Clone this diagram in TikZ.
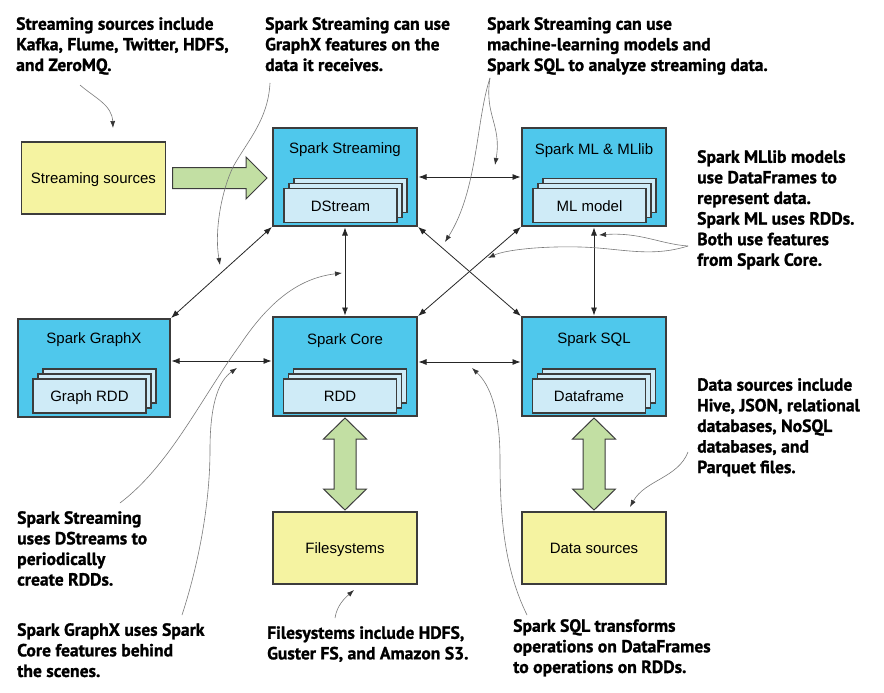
\documentclass[tikz,border=0pt]{standalone}
\usepackage{fontspec}
\setmainfont{Liberation Sans}
\newfontfamily\notefont[BoldFeatures={FakeBold=1.2}]{PT Sans}
\usetikzlibrary{arrows.meta,calc}
\definecolor{boxblue}{HTML}{4FC8EC}
\definecolor{cardblue}{HTML}{CFEBF7}
\definecolor{srcyellow}{HTML}{F5F3A1}
\definecolor{arrowgreen}{HTML}{C2DFA3}
\definecolor{edgec}{HTML}{3C3C3C}
\definecolor{callgray}{HTML}{7A7A7A}
\tikzset{
  comp/.style={draw=edgec, line width=1.1pt, fill=boxblue, minimum width=144pt, minimum height=98pt, inner sep=0pt, outer sep=0pt},
  srcbox/.style={draw=edgec, line width=1.1pt, fill=srcyellow, minimum width=144pt, minimum height=72pt, inner sep=0pt, outer sep=0pt, font=\fontsize{15}{18}\selectfont, text height=10.5pt, text depth=0pt},
  card/.style={draw=edgec, line width=1.1pt, fill=cardblue, minimum width=113pt, minimum height=34pt, inner sep=0pt, font=\fontsize{15}{18}\selectfont, text height=11pt, text depth=0pt},
  ttl/.style={font=\fontsize{15}{18}\selectfont, inner sep=0pt, anchor=base},
  note/.style={font=\notefont\bfseries\fontsize{17.6}{20.6}\selectfont, align=left, anchor=north west, inner sep=0pt},
  link/.style={draw=black!85, line width=0.8pt, {Latex[length=8pt,width=6pt]}-{Latex[length=8pt,width=6pt]}, shorten <=1.5pt, shorten >=1.5pt},
  call/.style={draw=callgray, line width=0.6pt, -{Latex[length=7pt,width=5pt,color=black!80]}},
  block/.style={draw=edgec, line width=1pt, fill=arrowgreen, line join=miter}
}
\begin{document}
\begin{tikzpicture}[x=1pt,y=-1pt]
\fill[white] (0,0) rectangle (884,693);
\useasboundingbox (0,0) rectangle (884,693);

% main boxes
\node[srcbox] (ss) at (93.5,178) {Streaming sources};
\node[comp] (sst) at (345,177) {};
\node[comp] (ml) at (594,177) {};
\node[comp, minimum width=152pt] (gx) at (94,368) {};
\node[comp, minimum height=99pt] (core) at (345,366.5) {};
\node[comp, minimum height=99pt] (sql) at (594,366.5) {};
\node[srcbox] (fs) at (345,548) {Filesystems};
\node[srcbox] (dsrc) at (594,548) {Data sources};

% titles
\node[ttl] (sstT) at ($(sst.north)+(0,25.5)$) {Spark Streaming};
\node[ttl] (mlT) at ($(ml.north)+(0,26)$) {Spark ML \& MLlib};
\node[ttl] (gxT) at ($(gx.north)+(0,24.5)$) {Spark GraphX};
\node[ttl] (coreT) at ($(core.north)+(0,27)$) {Spark Core};
\node[ttl] (sqlT) at ($(sql.north)+(0,26)$) {Spark SQL};

% card stacks
\node[card] (sst3) at (350.5,195.5) {};
\node[card] (sst2) at (345.5,200.5) {};
\node[card] (sst1) at (340.5,205.5) {DStream};
\node[card] (ml3) at (599.5,195.5) {};
\node[card] (ml2) at (594.5,200.5) {};
\node[card] (ml1) at (589.5,205.5) {ML model};
\node[card] (gx3) at (99.5,386) {};
\node[card] (gx2) at (94.5,391) {};
\node[card] (gx1) at (89.5,396) {Graph RDD};
\node[card] (core3) at (350,386) {};
\node[card] (core2) at (345,391) {};
\node[card] (core1) at (340,396) {RDD};
\node[card] (sql3) at (599,386) {};
\node[card] (sql2) at (594,391) {};
\node[card] (sql1) at (589,396) {Dataframe};

% block arrows
\draw[block] let \p1=($(ss.east)+(7,0)$), \p2=($(sst.west)+(-6,0)$) in
  (\x1,\y1+10.5pt) -- (\x2-21pt,\y1+10.5pt) -- (\x2-21pt,\y1+21pt) -- (\x2,\y1)
  -- (\x2-21pt,\y1-21pt) -- (\x2-21pt,\y1-10.5pt) -- (\x1,\y1-10.5pt) -- cycle;
\draw[block] let \p1=($(core.south)+(0,2)$), \p2=($(fs.north)+(0,-2)$) in
  (\x1,\y1) -- (\x1+21.5pt,\y1-21pt) -- (\x1+11pt,\y1-21pt) -- (\x1+11pt,\y2+21pt)
  -- (\x1+21.5pt,\y2+21pt) -- (\x1,\y2) -- (\x1-21.5pt,\y2+21pt) -- (\x1-11pt,\y2+21pt)
  -- (\x1-11pt,\y1-21pt) -- (\x1-21.5pt,\y1-21pt) -- cycle;
\draw[block] let \p1=($(sql.south)+(0,2)$), \p2=($(dsrc.north)+(0,-2)$) in
  (\x1,\y1) -- (\x1+21.5pt,\y1-21pt) -- (\x1+11pt,\y1-21pt) -- (\x1+11pt,\y2+21pt)
  -- (\x1+21.5pt,\y2+21pt) -- (\x1,\y2) -- (\x1-21.5pt,\y2+21pt) -- (\x1-11pt,\y2+21pt)
  -- (\x1-11pt,\y1-21pt) -- (\x1-21.5pt,\y1-21pt) -- cycle;

% thin links
\draw[link] (sst.east) -- (ml.west);
\draw[link] ($(gx.east)+(0,-7)$) -- ($(core.west)+(0,-5.5)$);
\draw[link] ($(core.east)+(0,-4.5)$) -- ($(sql.west)+(0,-4.5)$);
\draw[link] (sst.south) -- (core.north);
\draw[link] (ml.south) -- (sql.north);
\draw[link] (sst.south west) -- (gx.north east);
\draw[link] (sst.south east) -- (sql.north west);
\draw[link] (ml.south west) -- (core.north east);

% notes
\node[note] (n1) at (16,17) {Streaming sources include\\Kafka, Flume, Twitter, HDFS,\\and ZeroMQ.};
\node[note] (n2) at (265,17) {Spark Streaming can use\\GraphX features on the\\data it receives.};
\node[note] (n3) at (487,17) {Spark Streaming can use\\machine-learning models and\\Spark SQL to analyze streaming data.};
\node[note] (n4) at (697,150) {Spark MLlib models\\use DataFrames to\\represent data.\\Spark ML uses RDDs.\\Both use features\\from Spark Core.};
\node[note] (n5) at (697,378) {Data sources include\\Hive, JSON, relational\\databases, NoSQL\\databases, and\\Parquet files.};
\node[note] (n6) at (17,511) {Spark Streaming\\uses DStreams to\\periodically\\create RDDs.};
\node[note] (n7) at (17,623) {Spark GraphX uses Spark\\Core features behind\\the scenes.};
\node[note] (n8) at (267,626) {Filesystems include HDFS,\\Guster FS, and Amazon S3.};
\node[note] (n9) at (513,619) {Spark SQL transforms\\operations on DataFrames\\to operations on RDDs.};

% callouts
\coordinate (a1) at (80,85); \coordinate (a2) at (113,128);
\draw[call] (a1) .. controls (95,98) and (112,105) .. (a2);
\coordinate (b1) at (270,83); \coordinate (bm) at (233,167); \coordinate (b2) at (220,265);
\draw[call] (b1) .. controls (268,120) and (248,140) .. (bm) .. controls (222,190) and (214,230) .. (b2);
\coordinate (c0) at (490,78); \coordinate (c1) at (495,165); \coordinate (c2) at (445,242);
\draw[call] (c0) .. controls (484,115) and (502,125) .. (c1);
\draw[call] (c0) .. controls (476,120) and (478,190) .. (c2);
\coordinate (d0) at (688,246); \coordinate (d1) at (599,235); \coordinate (dm) at (580,247); \coordinate (d2) at (488,258);
\draw[call] (d0) .. controls (660,244) and (640,232) .. (d1);
\draw[call] (d0) .. controls (650,258) and (620,248) .. (dm) .. controls (540,246) and (505,250) .. (d2);
\coordinate (e0) at (688,452); \coordinate (e1) at (630,507);
\draw[call] (e0) .. controls (678,478) and (645,480) .. (e1);
\coordinate (f0) at (120,503); \coordinate (fm) at (240,345); \coordinate (f1) at (342,273);
\draw[call] (f0) .. controls (170,465) and (200,400) .. (fm) .. controls (270,300) and (300,278) .. (f1);
\coordinate (g0) at (182,615); \coordinate (gm) at (210,450); \coordinate (g1) at (237,368);
\draw[call] (g0) .. controls (200,560) and (210,500) .. (gm) .. controls (210,400) and (220,380) .. (g1);
\coordinate (h0) at (335,618); \coordinate (h1) at (354,590);
\draw[call] (h0) .. controls (337,605) and (345,598) .. (h1);
\coordinate (i0) at (527,615); \coordinate (im) at (500,460); \coordinate (i1) at (472,368);
\draw[call] (i0) .. controls (505,570) and (500,520) .. (im) .. controls (500,410) and (490,385) .. (i1);
\end{tikzpicture}
\end{document}
